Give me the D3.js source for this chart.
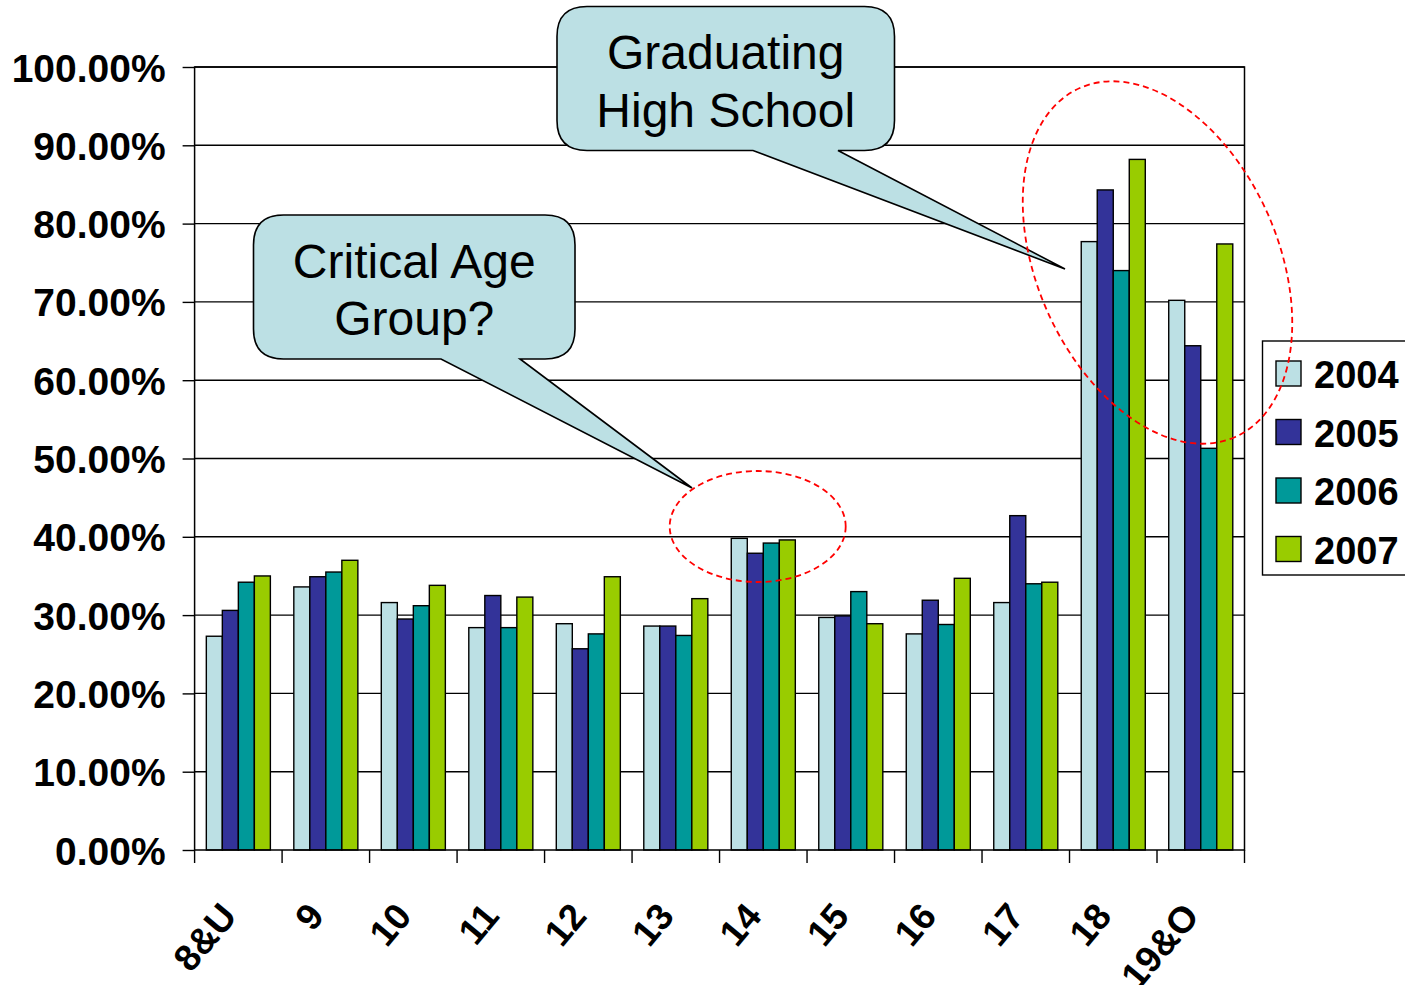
<!DOCTYPE html>
<html><head><meta charset="utf-8">
<script src="https://cdn.jsdelivr.net/npm/d3@7"></script>
<style>body{margin:0;background:#fff;} svg{display:block;}</style>
</head><body>
<svg id="c" width="1405" height="985"></svg>
<script>
const categories = ["8&U","9","10","11","12","13","14","15","16","17","18","19&O"];
const years = ["2004","2005","2006","2007"];
const v2004 = [27.3,33.6,31.6,28.4,28.9,28.6,39.8,29.7,27.6,31.6,77.7,70.2];
const v2005 = [30.6,34.9,29.5,32.5,25.7,28.6,37.9,29.9,31.9,42.7,84.3,64.4];
const v2006 = [34.2,35.5,31.2,28.4,27.6,27.4,39.2,33.0,28.8,34.0,74.0,51.3];
const v2007 = [35.0,37.0,33.8,32.3,34.9,32.1,39.6,28.9,34.7,34.2,88.2,77.4];
const colors = ["#BCE0E4","#333399","#009999","#99CC00"];
const yTicks = [0,0.1,0.2,0.3,0.4,0.5,0.6,0.7,0.8,0.9,1.0];
const calloutTexts = [["Graduating","High School"],["Critical Age","Group?"]];

const series = [v2004,v2005,v2006,v2007];
const svg = d3.select("#c");
const L = 194.6, R = 1244.5, T = 67, B = 850;
const y = d3.scaleLinear().domain([0,1]).range([B,T]);
const x0 = d3.scaleBand().domain(categories).range([L,R]).paddingInner(0.268).paddingOuter(0.134);
const x1 = d3.scaleBand().domain(years).range([0,x0.bandwidth()]);
const step = x0.step();
const FONT = "'Liberation Sans',Arial,sans-serif";

// gridlines
svg.append("g").selectAll("line").data(yTicks.slice(1)).join("line")
  .attr("x1",L).attr("x2",R).attr("y1",d=>y(d)).attr("y2",d=>y(d))
  .attr("stroke","#000").attr("stroke-width",1.4);

// bars
const g = svg.append("g");
categories.forEach((c,i)=>{
  years.forEach((yr,j)=>{
    const v = series[j][i]/100;
    g.append("rect").attr("x",x0(c)+x1(yr)).attr("width",x1.bandwidth())
      .attr("y",y(v)).attr("height",y(0)-y(v))
      .attr("fill",colors[j]).attr("stroke","#000").attr("stroke-width",1.4);
  });
});

// frame
svg.append("rect").attr("x",L).attr("y",T).attr("width",R-L).attr("height",B-T)
  .attr("fill","none").attr("stroke","#000").attr("stroke-width",1.5);

// y axis
const yAxis = d3.axisLeft(y).tickValues(yTicks).tickFormat(d3.format(".2%")).tickSize(12).tickPadding(17);
const ya = svg.append("g").attr("transform",`translate(${L},0)`).call(yAxis);
ya.select(".domain").remove();
ya.selectAll("line").attr("stroke","#000").attr("stroke-width",1.4);
ya.selectAll("text").attr("font-family",FONT)
  .attr("font-weight","bold").attr("font-size",39).attr("fill","#000").attr("dy","0.36em");

// x axis ticks at band boundaries
const bounds = d3.range(categories.length+1).map(i=>L+i*step);
svg.append("g").selectAll("line").data(bounds).join("line")
  .attr("x1",d=>d).attr("x2",d=>d).attr("y1",B).attr("y2",B+13)
  .attr("stroke","#000").attr("stroke-width",1.4);
svg.append("g").selectAll("text").data(categories).join("text")
  .attr("transform",d=>`translate(${x0(d)+x0.bandwidth()/2},917) rotate(-50)`)
  .attr("text-anchor","end")
  .attr("font-family",FONT).attr("font-weight","bold")
  .attr("font-size",37).text(d=>d);

// legend
const lg = svg.append("g");
lg.append("rect").attr("x",1262.5).attr("y",341).attr("width",160).attr("height",234)
  .attr("fill","#fff").attr("stroke","#000").attr("stroke-width",1.4);
years.forEach((yr,j)=>{
  lg.append("rect").attr("x",1276).attr("y",361+j*58.5).attr("width",25).attr("height",25)
    .attr("fill",colors[j]).attr("stroke","#000").attr("stroke-width",1.4);
  lg.append("text").attr("x",1314).attr("y",388+j*58.5)
    .attr("font-family",FONT).attr("font-weight","bold")
    .attr("font-size",38).text(yr);
});

// callouts
function callout(x0,y0,x1,y1,r,bA,bB,tx,ty){
  const p = d3.path();
  p.moveTo(x0+r,y0);
  p.lineTo(x1-r,y0); p.quadraticCurveTo(x1,y0,x1,y0+r);
  p.lineTo(x1,y1-r); p.quadraticCurveTo(x1,y1,x1-r,y1);
  p.lineTo(bB,y1); p.lineTo(tx,ty); p.lineTo(bA,y1);
  p.lineTo(x0+r,y1); p.quadraticCurveTo(x0,y1,x0,y1-r);
  p.lineTo(x0,y0+r); p.quadraticCurveTo(x0,y0,x0+r,y0);
  p.closePath();
  return p.toString();
}
const co = [
  {box:[557,6.5,894.5,150.5],base:[753,838],tip:[1065,269],lines:[69,127]},
  {box:[253.5,215,575,359],base:[441,520],tip:[692,488],lines:[277.5,334.5]}
];
co.forEach((c,i)=>{
  svg.append("path").attr("d",callout(c.box[0],c.box[1],c.box[2],c.box[3],30,c.base[0],c.base[1],c.tip[0],c.tip[1]))
    .attr("fill","#BCE0E4").attr("stroke","#000").attr("stroke-width",1.6).attr("stroke-linejoin","miter");
  const cx=(c.box[0]+c.box[2])/2;
  calloutTexts[i].forEach((t,k)=>{
    svg.append("text").attr("x",cx).attr("y",c.lines[k]).attr("text-anchor","middle")
      .attr("font-family",FONT).attr("font-size",48).text(t);
  });
});

// ellipses
svg.append("ellipse").attr("cx",757.7).attr("cy",526.5).attr("rx",88).attr("ry",55.5)
  .attr("fill","none").attr("stroke","#FF0000").attr("stroke-width",1.8).attr("stroke-dasharray","6,4");
svg.append("ellipse").attr("cx",0).attr("cy",0).attr("rx",191).attr("ry",120.5)
  .attr("transform","translate(1157.5,262.5) rotate(66)")
  .attr("fill","none").attr("stroke","#FF0000").attr("stroke-width",1.8).attr("stroke-dasharray","6,4");
</script>
</body></html>
